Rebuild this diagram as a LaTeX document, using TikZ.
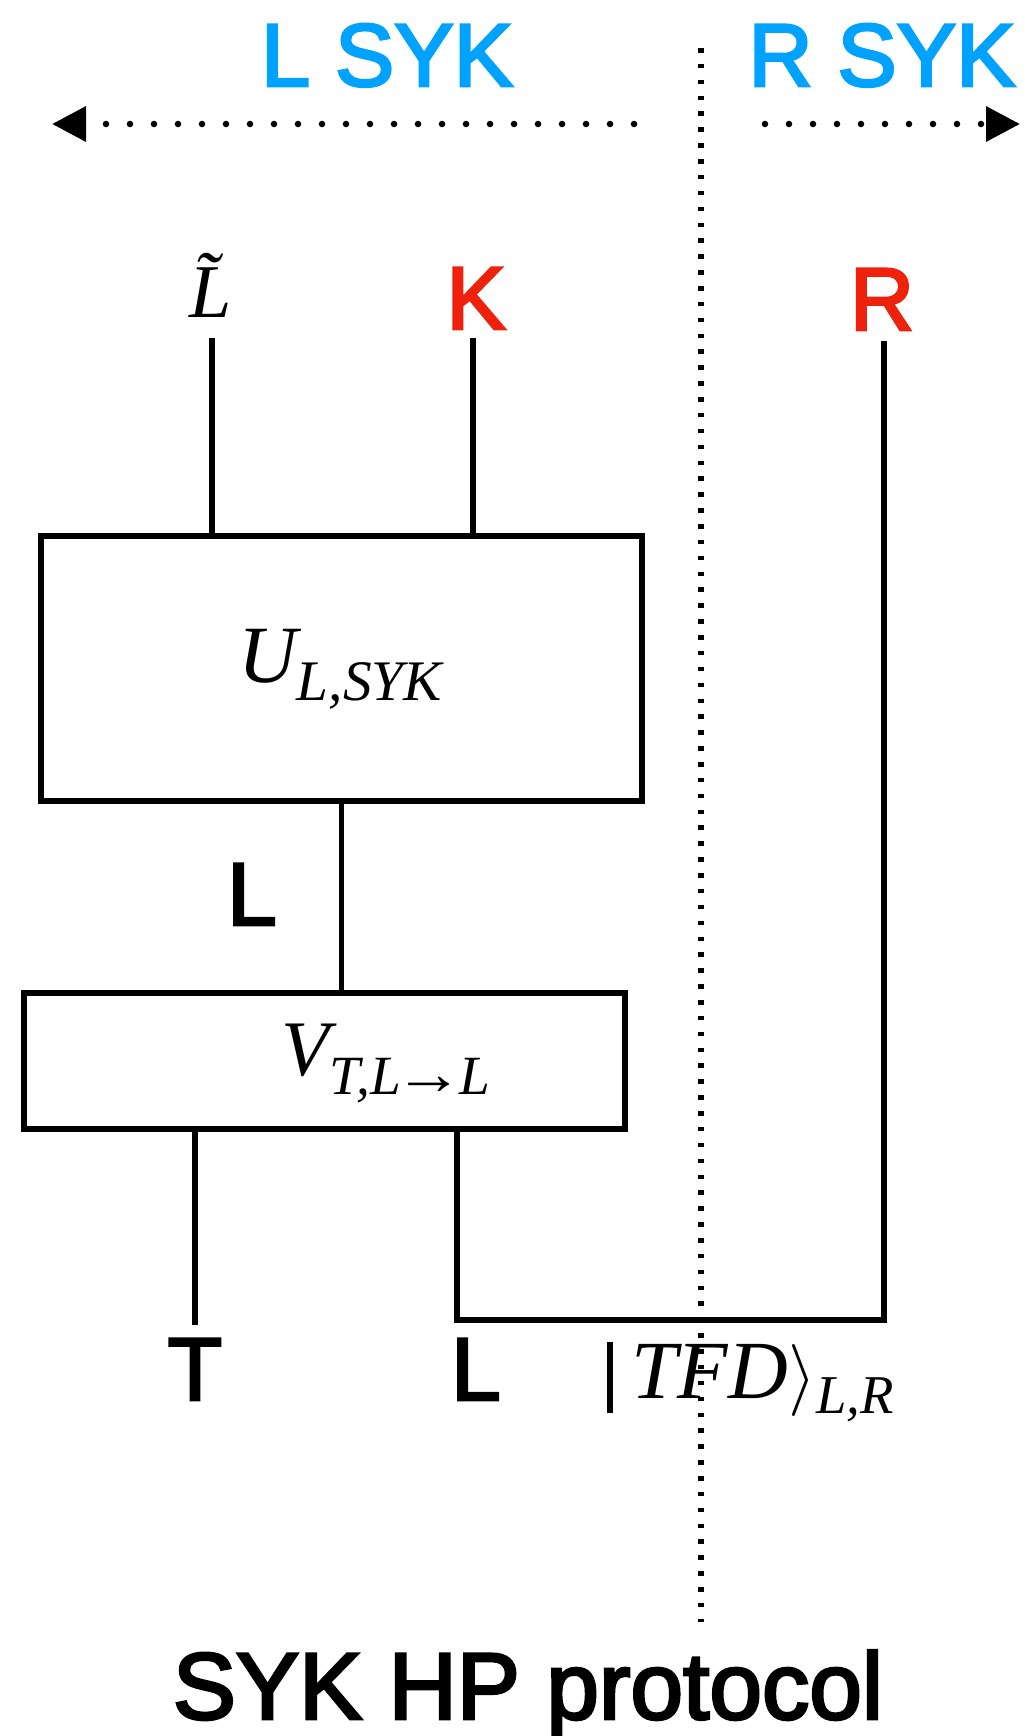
\documentclass[tikz,border=0pt]{standalone}
\usepackage{fontspec}
\usepackage{graphicx}
\setmainfont{Liberation Sans}
\newfontfamily\medsf[FakeBold=3]{Liberation Sans}
\newfontfamily\tms{Liberation Serif}
\usetikzlibrary{arrows.meta}
\definecolor{skyb}{HTML}{00A2FF}
\definecolor{redk}{HTML}{EE220C}
\begin{document}
\begin{tikzpicture}[x=0.75pt,y=-0.75pt,
  wire/.style={line width=3.8pt},
  boxn/.style={draw, line width=3.8pt, rectangle, inner sep=0},
  sanslbl/.style={inner sep=0, anchor=base, font=\medsf\fontsize{66.75}{70}\selectfont},
  seriflbl/.style={inner sep=0, anchor=base, font=\tms\itshape\fontsize{61}{64}\selectfont},
  dotarrow/.style={line width=4.9pt, line cap=round, dash pattern=on 0pt off 18pt, -{Triangle[length=25.5pt,width=25.5pt]}},
  vdots/.style={line width=4.2pt, dash pattern=on 3.4pt off 8.5pt},
]
\useasboundingbox (0,0) rectangle (1025,1736);

% headers
\node[sanslbl, text=skyb] (lsyk) at (387,86) {L SYK};
\node[sanslbl, text=skyb] (rsyk) at (882,86) {R SYK};
\coordinate (la0) at (634,124);
\coordinate (la1) at (52,124);
\coordinate (ra0) at (765,124);
\coordinate (ra1) at (1020,124);
\draw[dotarrow] (la0) -- (la1);
\draw[dotarrow] (ra0) -- (ra1);

% divider
\coordinate (vtop) at (701,48);
\coordinate (vbot) at (701,1622);
\draw[vdots] (vtop) -- (vbot);

% top labels
\node[inner sep=0, anchor=base, font=\tms\itshape\fontsize{57}{60}\selectfont] (ltil) at (211,317) {\~{L}};
\node[sanslbl, text=redk] (klbl) at (476,329) {K};
\node[sanslbl, text=redk] (rlbl) at (882,330) {R};

% boxes
\node[boxn, minimum width=450.75pt, minimum height=198.75pt] (ubox) at (341.5,668.5) {};
\node[seriflbl] (ulbl) at (340,682) {U\raisebox{-0.23em}{\fontsize{43}{46}\selectfont L,SYK}};
\node[boxn, minimum width=450.75pt, minimum height=102pt] (vbox) at (324.5,1061) {};
\node[seriflbl, font=\tms\itshape\fontsize{59}{62}\selectfont] (vlbl) at (386,1075) {V\raisebox{-0.25em}{\fontsize{41.5}{44}\selectfont T,L\kern-0.12em\scalebox{1.25}[1.1]{→}\kern-0.08em L}};

\node[sanslbl] (lmid) at (252,925) {L};
\node[sanslbl] (tlbl) at (195,1400) {T};
\node[sanslbl] (lbot) at (476,1400) {L};

\node[inner sep=0, anchor=base, font=\tms\itshape\fontsize{62}{64}\selectfont] (tfd) at (750,1398)
  {\rule[-11pt]{5pt}{53pt}\hspace{14pt}TFD\raisebox{0pt}{\normalsize\scalebox{5.4}{$\rangle$}}\raisebox{-0.19em}{\fontsize{41}{43}\selectfont L,R}};

\node[inner sep=0, anchor=base, font=\medsf\fontsize{71}{74}\selectfont] (title) at (528,1719) {SYK HP protocol};

% wires
\coordinate (ltop) at (212,338);
\coordinate (ktop) at (473,338);
\coordinate (rtop) at (884,341);
\coordinate (tbot) at (195,1325);
\coordinate (lcorner) at (457,1320);
\coordinate (rcorner) at (884,1320);
\draw[wire] (ltop) -- (ltop |- ubox.north);
\draw[wire] (ktop) -- (ktop |- ubox.north);
\draw[wire] (ubox.south) -- (vbox.north -| ubox.south);
\draw[wire] (tbot |- vbox.south) -- (tbot);
\draw[wire] (lcorner |- vbox.south) -- (lcorner) -- (rcorner) -- (rtop);
\end{tikzpicture}
\end{document}
